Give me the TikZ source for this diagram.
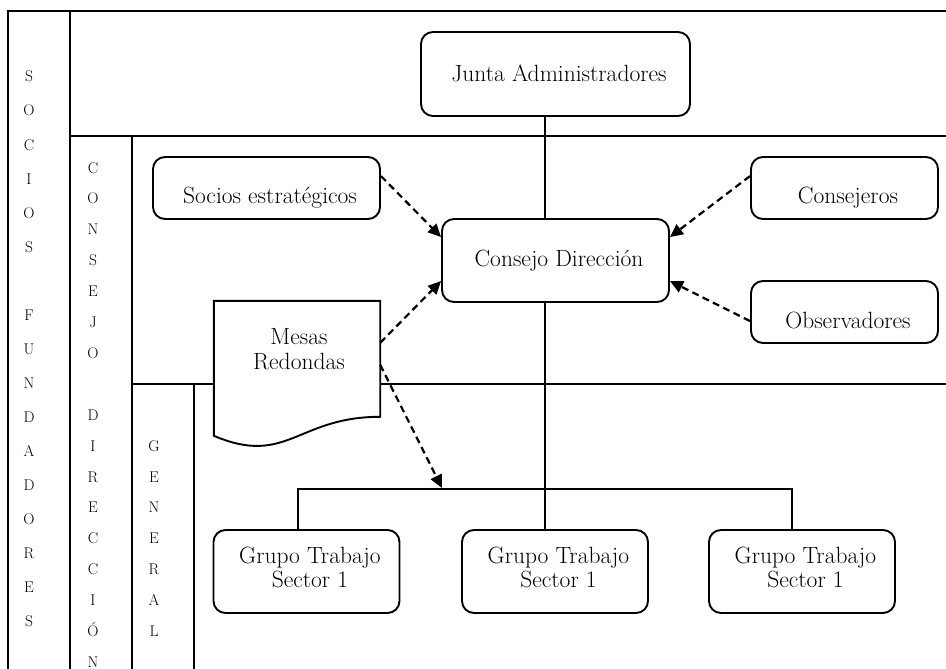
\documentclass[tikz,border=0pt]{standalone}
\usetikzlibrary{arrows.meta,calc,backgrounds}
% text set in a box, shifted right by half the kern and lowered by #1 (pt)
\newcommand{\inbox}[2]{\hspace*{7pt}\raisebox{-#1pt}[0pt][0pt]{#2}}
\begin{document}
\begin{tikzpicture}[x=1pt,y=-1pt,
  frame/.style={line width=1.6pt},
  orgbox/.style={draw, line width=1.9pt, rounded corners=12pt, fill=white,
    inner sep=0pt, font=\fontsize{23.5}{24}\selectfont},
  link/.style={line width=1.3pt},
  feed/.style={line width=2.2pt, dash pattern=on 7pt off 4.5pt,
    -{Triangle[length=13pt,width=12pt]}},
  vletter/.style={anchor=base, inner sep=0pt, font=\fontsize{15.5}{16}\selectfont}]
\useasboundingbox (0,0) rectangle (946,669);

% nested bands of the governance frame
\begin{scope}[on background layer]
  \draw[frame] (946,11) -- (8,11) -- (8,669);
  \draw[frame] (70,11) -- (70,669);
  \draw[frame] (70,136) -- (946,136);
  \draw[frame] (132,136) -- (132,669);
  \draw[frame] (132,384) -- (946,384);
  \draw[frame] (194,384) -- (194,669);
\end{scope}

% vertical band titles
\foreach \ch/\k in {S/0,O/1,C/2,I/3,O/4,S/5,F/7,U/8,N/9,D/10,A/11,D/12,O/13,R/14,E/15,S/16}
  \node[vletter] (sf\k) at (29, 77+34*\k+5) {\ch};
\foreach \ch/\k in {C/0,O/1,N/2,S/3,E/4,J/5,O/6,D/8,I/9,R/10,E/11,C/12,C/13,I/14,Ó/15,N/16}
  \node[vletter] (cd\k) at (93, 168+30.9*\k+5) {\ch};
\foreach \ch/\k in {G/9,E/10,N/11,E/12,R/13,A/14,L/15}
  \node[vletter] (cg\k) at (154, 168+30.9*\k+5) {\ch};

% boxes
\node[orgbox, minimum width=269pt, minimum height=84pt] (junta) at (555.5,74)
  {\inbox{7.7}{Junta Administradores}};
\node[orgbox, minimum width=227pt, minimum height=62pt] (socios) at (266.5,188)
  {\inbox{15.3}{Socios estratégicos}};
\node[orgbox, minimum width=187pt, minimum height=62pt] (consejeros) at (844.5,188)
  {\inbox{15.3}{Consejeros}};
\node[orgbox, minimum width=227pt, minimum height=83pt] (consejo) at (555.5,260.5)
  {\inbox{5.5}{Consejo Dirección}};
\node[orgbox, minimum width=187pt, minimum height=62pt] (observadores) at (844.5,312)
  {\inbox{16.3}{Observadores}};
\foreach \nm/\cx in {grupoA/306.5, grupoB/555, grupoC/802}
  \node[orgbox, minimum width=186pt, minimum height=83pt] (\nm) at (\cx,571.5)
    {\inbox{15.5}{\begin{tabular}[b]{@{}c@{}}Grupo Trabajo\\Sector 1\end{tabular}}};

% document-shaped node
\node[inner sep=0pt, minimum width=166pt, minimum height=144.6pt,
  font=\fontsize{23.5}{25}\selectfont] (mesas) at (297,373.3)
  {\hspace*{4pt}\raisebox{4.3pt}[0pt][0pt]{\begin{tabular}[b]{@{}c@{}}Mesas\\Redondas\end{tabular}}};
\begin{scope}[on background layer]
  \draw[line width=1.9pt, fill=white] (mesas.north west) -- (mesas.north east)
    -- ($(mesas.north east)+(0,116)$)
    .. controls ($(mesas.north)+(0,116)$) and ($(mesas.north)+(-10,166)$)
    .. ($(mesas.north west)+(0,135)$) -- cycle;
\end{scope}

% hierarchy connectors
\coordinate (spine) at (545,0);
\coordinate (ga) at (298,489);
\coordinate (gc) at (792,489);
\coordinate (busarrow) at (442,488);
\draw[link] (junta.south -| spine) -- (consejo.north -| spine);
\draw[link] (consejo.south -| spine) -- (grupoB.north -| spine);
\draw[link] (grupoA.north -| ga) -- (ga) -- (gc) -- (grupoC.north -| gc);

% advisory flows
\draw[feed] ($(socios.north east)+(0,20)$) -- ($(consejo.north west)+(0,19)$);
\draw[feed] ($(consejeros.north west)+(0,20)$) -- ($(consejo.north east)+(0,19)$);
\draw[feed] ($(observadores.north west)+(0,41)$) -- ($(consejo.north east)+(0,63)$);
\draw[feed] ($(mesas.north east)+(0,42)$) -- ($(consejo.north west)+(0,63)$);
\draw[feed] ($(mesas.north east)+(0,64)$) -- (busarrow);
\end{tikzpicture}
\end{document}
